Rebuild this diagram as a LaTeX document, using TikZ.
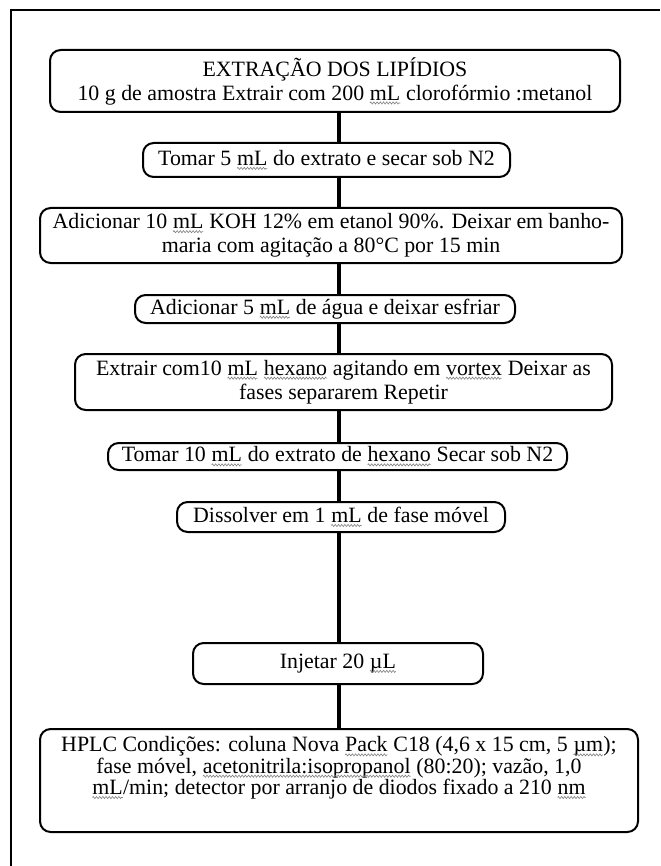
\documentclass[tikz,border=0pt]{standalone}
\usepackage{fontspec}
\setmainfont{Liberation Serif}
\usetikzlibrary{decorations.pathmorphing}
\newcommand\sqw[1]{\tikz[baseline=(w.base)]{%
  \node[draw=none, fill=none, inner sep=0pt, outer sep=0pt, minimum width=0pt,
    minimum height=0pt, sharp corners, anchor=base] (w) {#1};%
  \draw[gray, line width=0.45pt, sharp corners, decorate,
    decoration={zigzag, amplitude=0.8pt, segment length=2.4pt}]
    ([yshift=-2.2pt]w.base west) -- ([yshift=-2.2pt]w.base east);}}
\begin{document}
\begin{tikzpicture}[x=0.75pt,y=-0.75pt,
  stepbox/.style={draw, line width=1.5pt, rounded corners=8pt, inner sep=0pt,
    align=center, font=\fontsize{16.4}{18}\selectfont},
  steptext/.style={inner sep=0pt, align=center, font=\fontsize{16.4}{16}\selectfont},
  link/.style={line width=2.6pt}]
\useasboundingbox (0,0) rectangle (660,866);
\draw[line width=0.8pt] (660,10) -- (11,10) -- (11,866);
\coordinate (spine) at (339,0);
\node[stepbox, minimum width=427.5pt, minimum height=46.5pt] (b1) at (335,81)
  {EXTRAÇÃO DOS LIPÍDIOS\\10 g de amostra Extrair com 200 \sqw{mL} clorofórmio :metanol};
\node[stepbox, minimum width=275.25pt, minimum height=25.5pt] (b2) at (326.5,160)
  {Tomar 5 \sqw{mL} do extrato e secar sob N2};
\node[stepbox, minimum width=436.5pt, minimum height=41.25pt] (b3) at (331,235.5)
  {Adicionar 10 \sqw{mL} KOH 12\% em etanol 90\%. Deixar em banho-\\maria com agitação a 80°C por 15 min};
\node[stepbox, minimum width=285pt, minimum height=21pt] (b4) at (325,309)
  {Adicionar 5 \sqw{mL} de água e deixar esfriar};
\node[stepbox, minimum width=402.75pt, minimum height=42pt] (b5) at (343.5,382)
  {Extrair com10 \sqw{mL} \sqw{hexano} agitando em \sqw{vortex} Deixar as\\fases separarem Repetir};
\node[stepbox, minimum width=344.25pt, minimum height=20.25pt] (b6) at (337.5,456.5)
  {Tomar 10 \sqw{mL} do extrato de \sqw{hexano} Secar sob N2};
\node[stepbox, minimum width=246pt, minimum height=22.5pt] (b7) at (341,517)
  {Dissolver em 1 \sqw{mL} de fase móvel};
\node[stepbox, minimum width=217.5pt, minimum height=30.75pt] (b8) at (338,663.5)
  {Injetar 20 \sqw{µL}};
\node[stepbox, minimum width=448.5pt, minimum height=77.25pt] (b9) at (339,780.5) {};
\node[steptext] (b9t) at (339,768)
  {HPLC Condições: coluna Nova \sqw{Pack} C18 (4,6 x 15 cm, 5 \sqw{µm});\\fase móvel, \sqw{acetonitrila:isopropanol} (80:20); vazão, 1,0\\\sqw{mL}/min; detector por arranjo de diodos fixado a 210 \sqw{nm}};
\foreach \a/\b in {b1/b2,b2/b3,b3/b4,b4/b5,b5/b6,b6/b7,b7/b8,b8/b9}
  \draw[link] (\a.south -| spine) -- (\b.north -| spine);
\end{tikzpicture}
\end{document}
